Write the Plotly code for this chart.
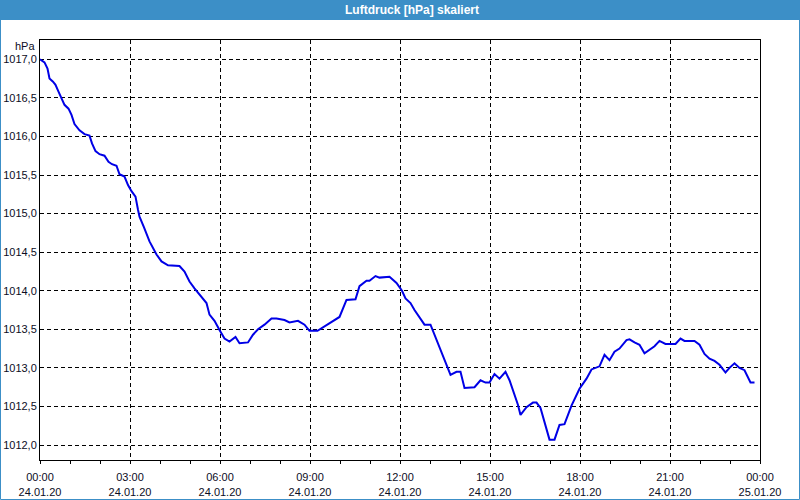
import plotly.graph_objects as go
import pandas as pd

# minutes after 24.01.20 00:00
minutes = [0, 9, 15, 19, 26, 31, 37, 44, 49, 57, 63, 69, 79, 89, 99, 104, 111, 119, 129, 137,
           144, 153, 159, 169, 176, 183, 191, 196, 199, 208, 219, 233, 243, 256, 279, 289, 299,
           309, 323, 333, 339, 349, 359, 369, 379, 391, 399, 416, 426, 436, 449, 463, 473, 489,
           499, 516, 529, 539, 555, 569, 583, 599, 613, 631, 639, 653, 659, 671, 679, 699, 713,
           724, 731, 741, 749, 759, 769, 781, 789, 799, 808, 816, 821, 833, 841, 849, 869, 881,
           891, 899, 909, 919, 931, 939, 949, 956, 961, 973, 986, 993, 1001, 1009, 1019, 1029,
           1039, 1049, 1063, 1079, 1093, 1103, 1119, 1129, 1139, 1149, 1159, 1173, 1179, 1189,
           1199, 1209, 1219, 1229, 1239, 1251, 1271, 1281, 1289, 1309, 1319, 1329, 1339, 1349,
           1359, 1371, 1379, 1389, 1399, 1409, 1421, 1429]
pressure = [1017.00, 1016.96, 1016.88, 1016.75, 1016.71, 1016.67, 1016.58, 1016.49, 1016.41,
            1016.36, 1016.28, 1016.16, 1016.08, 1016.03, 1016.01, 1015.91, 1015.81, 1015.77,
            1015.75, 1015.67, 1015.64, 1015.62, 1015.51, 1015.48, 1015.37, 1015.29, 1015.22,
            1015.05, 1014.96, 1014.82, 1014.64, 1014.47, 1014.38, 1014.33, 1014.32, 1014.25,
            1014.12, 1014.03, 1013.92, 1013.84, 1013.69, 1013.61, 1013.49, 1013.38, 1013.34,
            1013.40, 1013.32, 1013.33, 1013.43, 1013.50, 1013.56, 1013.64, 1013.64, 1013.62,
            1013.59, 1013.61, 1013.56, 1013.48, 1013.48, 1013.54, 1013.59, 1013.66, 1013.88,
            1013.89, 1014.06, 1014.13, 1014.13, 1014.19, 1014.17, 1014.18, 1014.10, 1014.00,
            1013.90, 1013.84, 1013.75, 1013.66, 1013.56, 1013.56, 1013.43, 1013.27, 1013.10,
            1012.97, 1012.91, 1012.95, 1012.95, 1012.74, 1012.75, 1012.84, 1012.81, 1012.81,
            1012.92, 1012.86, 1012.95, 1012.84, 1012.65, 1012.52, 1012.39, 1012.49, 1012.55,
            1012.55, 1012.48, 1012.30, 1012.07, 1012.07, 1012.26, 1012.27, 1012.51, 1012.73,
            1012.86, 1012.98, 1013.02, 1013.17, 1013.10, 1013.21, 1013.25, 1013.36, 1013.37,
            1013.33, 1013.30, 1013.19, 1013.24, 1013.28, 1013.35, 1013.31, 1013.31, 1013.38,
            1013.35, 1013.35, 1013.30, 1013.18, 1013.12, 1013.09, 1013.04, 1012.94, 1013.00,
            1013.06, 1013.00, 1012.97, 1012.81, 1012.81]

y_tick_vals = [1012.0, 1012.5, 1013.0, 1013.5, 1014.0, 1014.5, 1015.0, 1015.5, 1016.0, 1016.5, 1017.0]
y_tick_text = ["1012,0", "1012,5", "1013,0", "1013,5", "1014,0", "1014,5", "1015,0", "1015,5",
               "1016,0", "1016,5", "1017,0"]
x_tick_hours = [0, 3, 6, 9, 12, 15, 18, 21, 24]
x_tick_text = ["00:00<br>24.01.20", "03:00<br>24.01.20", "06:00<br>24.01.20", "09:00<br>24.01.20",
               "12:00<br>24.01.20", "15:00<br>24.01.20", "18:00<br>24.01.20", "21:00<br>24.01.20",
               "00:00<br>25.01.20"]

start = pd.Timestamp("2020-01-24 00:00")
times = start + pd.to_timedelta(minutes, unit="min")
x_tick_vals = [start + pd.Timedelta(hours=h) for h in x_tick_hours]

W, H = 800, 500
L, R, T, B = 40, 40, 40, 40
pw, ph = W - L - R, H - T - B
def px(x):
    return (x - L) / pw
def py(y):
    return (H - B - y) / ph

font = "Liberation Sans, Arial, sans-serif"
txtc = "#0c0c24"

fig = go.Figure()
fig.add_trace(go.Scatter(x=times, y=pressure, mode="lines",
                         line=dict(color="#0000e6", width=2), hoverinfo="skip"))

fig.update_layout(
    width=W, height=H,
    margin=dict(l=L, r=R, t=T, b=B, autoexpand=False),
    paper_bgcolor="white", plot_bgcolor="white",
    showlegend=False,
    font=dict(family=font, size=11, color=txtc),
    xaxis=dict(
        type="date", automargin=False,
        range=[start, start + pd.Timedelta(hours=24)],
        tickvals=x_tick_vals, ticktext=x_tick_text,
        ticks="outside", ticklen=3, tickcolor="black",
        ticklabelstandoff=4,
        minor=dict(dtick=3600000, tick0=start, ticks="outside", ticklen=3, tickcolor="black",
                   showgrid=False),
        showgrid=True, gridcolor="black", gridwidth=1, griddash="4px,3px",
        showline=True, linecolor="black", linewidth=1, mirror=True,
        zeroline=False, tickangle=0,
    ),
    yaxis=dict(
        automargin=False,
        range=[1011.806, 1017.25],
        tickvals=y_tick_vals, ticktext=y_tick_text,
        ticks="",
        showgrid=True, gridcolor="black", gridwidth=1, griddash="4px,3px",
        showline=True, linecolor="black", linewidth=1, mirror=True,
        zeroline=False,
    ),
    shapes=[
        dict(type="rect", xref="paper", yref="paper", x0=px(0), x1=px(W), y0=py(20), y1=py(0),
             fillcolor="#3c8fc7", line=dict(width=0), layer="above"),
        dict(type="rect", xref="paper", yref="paper", x0=px(0.5), x1=px(W - 0.5),
             y0=py(H - 0.5), y1=py(0.5), fillcolor="rgba(0,0,0,0)",
             line=dict(color="#3c8fc7", width=1), layer="above"),
    ],
    annotations=[
        dict(text="<b>Luftdruck [hPa] skaliert</b>", xref="paper", yref="paper",
             x=px(412), y=py(10), xanchor="center", yanchor="middle", showarrow=False,
             font=dict(family=font, size=12, color="white")),
        dict(text="hPa", xref="paper", yref="paper", x=px(37), y=py(46),
             xanchor="right", yanchor="middle", showarrow=False,
             font=dict(family=font, size=11, color=txtc)),
    ],
)

fig.write_html("out.html")
